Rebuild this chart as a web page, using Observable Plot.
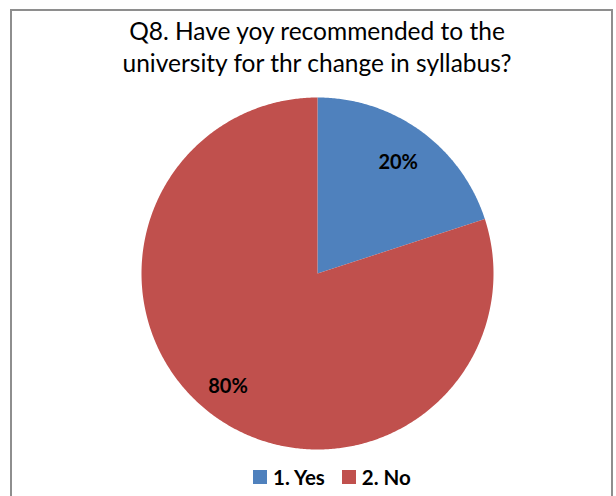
<!DOCTYPE html>
<html>
<head>
<meta charset="utf-8">
<script src="https://cdn.jsdelivr.net/npm/d3@7"></script>
<script src="https://cdn.jsdelivr.net/npm/@observablehq/plot@0.6"></script>
<style>
  html, body { margin: 0; padding: 0; background: #fff; }
  #wrap { position: relative; width: 616px; height: 496px; overflow: hidden; font-family: Lato, "Open Sans", sans-serif; }
  #frame { position: absolute; left: 10px; top: 9px; width: 603px; height: 600px; border: 2px solid #8e8e8e; box-sizing: border-box; }
  #title { position: absolute; left: 0; width: 634px; top: 15px; text-align: center; font-size: 24.5px; line-height: 32px; color: #000; }
  #chart { position: absolute; left: 0; top: 0; }
  #legend { position: absolute; top: 465px; left: 253px; display: flex; align-items: center; font-weight: bold; font-size: 20.5px; line-height: 24px; color: #000; }
  .sw { width: 14px; height: 14px; display: inline-block; margin-right: 6px; }
  .item { display: flex; align-items: center; margin-right: 17px; }
</style>
</head>
<body>
<div id="wrap">
  <div id="frame"></div>
  <div id="chart"></div>
  <div id="title">Q8. Have yoy recommended to the<br>university for thr change in syllabus?</div>
  <div id="legend"></div>
</div>
<script>
const categories = ["1. Yes", "2. No"];
const values = [20, 80];
const labels = ["20%", "80%"];
const colors = ["#4F81BD", "#C0504D"];

const arcs = d3.pie().sort(null).value(d => d)(values);
const rows = [];
arcs.forEach((a, i) => {
  rows.push({slice: categories[i], x: 0, y: 0});
  const n = Math.max(2, Math.ceil((a.endAngle - a.startAngle) / (Math.PI / 360)));
  for (let k = 0; k <= n; k++) {
    const t = a.startAngle + (a.endAngle - a.startAngle) * k / n;
    rows.push({slice: categories[i], x: Math.sin(t), y: Math.cos(t)});
  }
  rows.push({slice: categories[i], x: 0, y: 0});
});
const labelRadius = [0.78, 0.82];
const labelRows = arcs.map((a, i) => {
  const m = (a.startAngle + a.endAngle) / 2 + (i === 1 ? 0.04 : 0);
  return {text: labels[i], x: labelRadius[i] * Math.sin(m), y: labelRadius[i] * Math.cos(m)};
});

const plot = Plot.plot({
  width: 616,
  height: 496,
  marginLeft: 141,
  marginRight: 123,
  marginTop: 97,
  marginBottom: 47,
  x: {domain: [-1, 1], axis: null},
  y: {domain: [-1, 1], axis: null},
  color: {domain: categories, range: colors},
  style: {background: "transparent", overflow: "visible"},
  marks: [
    Plot.line(rows, {x: "x", y: "y", z: "slice", fill: "slice", stroke: "none", curve: "linear"}),
    Plot.text(labelRows, {x: "x", y: "y", text: "text", fontSize: 20, fontWeight: "bold", fill: "#000", fontFamily: "Lato, sans-serif"})
  ]
});
document.getElementById("chart").appendChild(plot);

const legend = document.getElementById("legend");
categories.forEach((c, i) => {
  const it = document.createElement("div");
  it.className = "item";
  const sw = document.createElement("span");
  sw.className = "sw";
  sw.style.background = colors[i];
  it.appendChild(sw);
  it.appendChild(document.createTextNode(c));
  legend.appendChild(it);
});
</script>
</body>
</html>
